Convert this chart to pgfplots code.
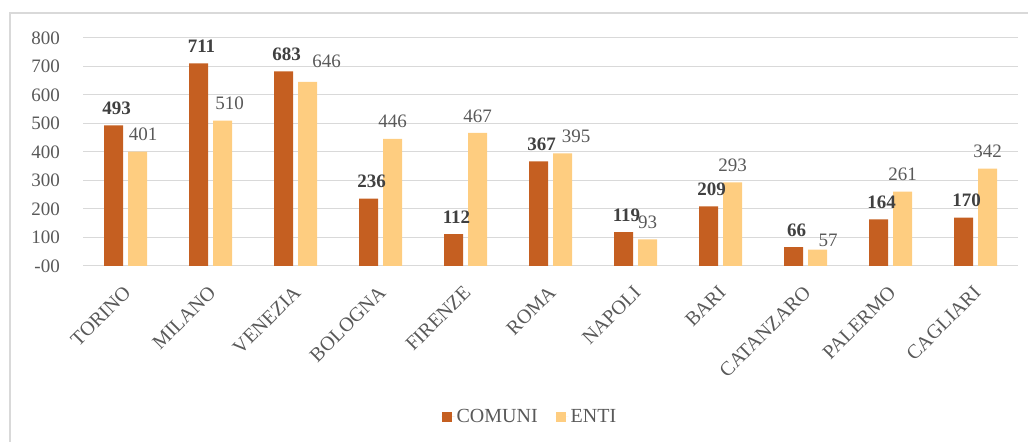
\documentclass[border=0pt]{standalone}
\usepackage{pgfplots}
\usepackage{pgfplotstable}
\pgfplotsset{compat=1.18}
\usepackage{fontspec}
\setmainfont{Liberation Serif}
\definecolor{comuni}{HTML}{C55F21}
\definecolor{enti}{HTML}{FECD80}
\definecolor{txt}{HTML}{595959}
\definecolor{lbl}{HTML}{404040}
\definecolor{gridc}{HTML}{D9D9D9}
\pgfplotstableread{
x y
0 493
1 711
2 683
3 236
4 112
5 367
6 119
7 209
8 66
9 164
10 170
}\comuni
\pgfplotstableread{
x y
0 401
1 510
2 646
3 446
4 467
5 395
6 93
7 293
8 57
9 261
10 342
}\enti
\begin{document}
\begin{tikzpicture}[x=1bp,y=1bp]
\path[use as bounding box] (0,0) rectangle (1028,442);
\draw[gridc, line width=1.5bp] (10,-5) -- (10,429) -- (1035,429);
\begin{axis}[
  at={(83bp,176bp)}, anchor=south west,
  scale only axis, width=935bp, height=228bp,
  xmin=-0.5, xmax=10.5, ymin=0, ymax=800,
  ybar, bar width=19bp,
  clip=false,
  axis line style={draw=none},
  tick style={draw=none},
  ymajorgrids, grid style={gridc, line width=1bp},
  xtick={0,...,10},
  xticklabels={TORINO,MILANO,VENEZIA,BOLOGNA,FIRENZE,ROMA,NAPOLI,BARI,CATANZARO,PALERMO,CAGLIARI},
  ytick={0,100,...,800},
  yticklabels={-00,100,200,300,400,500,600,700,800},
  /pgf/number format/assume math mode=true,
  yticklabel style={font=\fontsize{19bp}{22bp}\selectfont, text=txt, anchor=east, inner sep=0pt, xshift=-23bp},
  xticklabel style={font=\fontsize{20bp}{23bp}\selectfont, text=txt, anchor=north east, inner sep=0pt, xshift=-3bp, yshift=-14bp, rotate=45},
  legend style={at={(0.478,-0.662)}, anchor=center, draw=none, fill=none,
    legend columns=2, font=\fontsize{20bp}{23bp}\selectfont, text=txt,
    /tikz/every even column/.append style={column sep=16bp},
    legend cell align=left},
  legend image code/.code={\fill[#1] (0bp,-5bp) rectangle (10bp,5bp); \path (0bp,0bp) -- (13bp,0bp);},
]
\addplot[fill=comuni, draw=none, bar shift=-12bp, nodes near coords,
  every node near coord/.append style={font=\fontsize{19bp}{22bp}\selectfont\bfseries, text=lbl, inner sep=0pt, xshift=3bp, yshift=10.5bp}]
  table[x=x, y=y] {\comuni};
\addplot[fill=enti, draw=none, bar shift=12bp, nodes near coords,
  every node near coord/.append style={font=\fontsize{19bp}{22bp}\selectfont, text=txt, inner sep=0pt, yshift=10.5bp},
  coordinate style/.condition={x==0}{xshift=5.5bp},
  coordinate style/.condition={x==1}{xshift=7bp},
  coordinate style/.condition={x==2}{xshift=19bp, yshift=4bp},
  coordinate style/.condition={x==5}{xshift=13.5bp},
  coordinate style/.condition={x==8}{xshift=10.5bp, yshift=-8bp}]
  table[x=x, y=y] {\enti};
\legend{COMUNI,ENTI}
\end{axis}
\end{tikzpicture}
\end{document}
